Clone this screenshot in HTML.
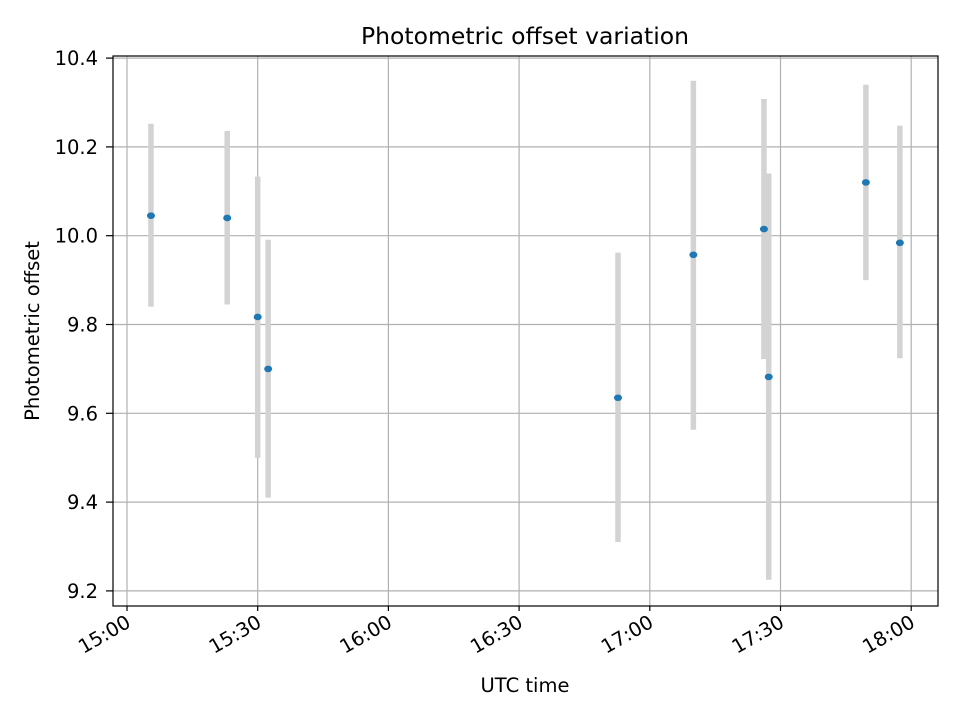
<!DOCTYPE html>
<html><head><meta charset="utf-8"><style>
body{margin:0;background:#fff;}
svg text{font-family:"DejaVu Sans","Liberation Sans",sans-serif;}
</style></head><body>
<svg id="chart" width="960" height="720" xmlns="http://www.w3.org/2000/svg">
<rect width="960" height="720" fill="#fff"/>
<g id="grid"></g><g id="bars"></g><g id="pts"></g><g id="axes"></g>
<rect x="113" y="56" width="825" height="550" fill="none" stroke="#000" stroke-width="1.2"/>
<text x="525" y="44" style="font-size:23.5px" text-anchor="middle">Photometric offset variation</text>
<text x="525" y="692" style="font-size:19.5px" text-anchor="middle">UTC time</text>
<text x="39" y="331" style="font-size:19.5px" text-anchor="middle" transform="rotate(-90 39 331)">Photometric offset</text>
</svg>
<script>
const times=[5.5,23,30,32.4,112.7,130,146.2,147.3,169.6,177.4];
const offsets=[10.045,10.04,9.817,9.70,9.635,9.957,10.015,9.682,10.12,9.984];
const lows=[9.84,9.845,9.50,9.41,9.31,9.563,9.722,9.225,9.90,9.724];
const highs=[10.252,10.236,10.133,9.991,9.962,10.349,10.308,10.14,10.34,10.248];
const xTicks=[0,30,60,90,120,150,180];
const xLabels=["15:00","15:30","16:00","16:30","17:00","17:30","18:00"];
const yTicks=[9.2,9.4,9.6,9.8,10.0,10.2,10.4];
const NS="http://www.w3.org/2000/svg";
const X=m=>127+m*(130.7/30);
const Y=v=>235.7-(v-10.0)*444;
function mk(p,t,a){const e=document.createElementNS(NS,t);for(const k in a)e.setAttribute(k,a[k]);document.getElementById(p).appendChild(e);return e;}
xTicks.forEach((t,i)=>{
 const x=X(t);
 const g=mk('grid','line',{x1:x,x2:x,y1:56,y2:606,stroke:'#b0b0b0','stroke-width':1.2});
 
 
 mk('axes','line',{x1:x,x2:x,y1:606,y2:611,stroke:'#000','stroke-width':1.2});
 const l=mk('axes','text',{x:x+5,y:626,style:'font-size:19.5px','text-anchor':'end',transform:`rotate(-30 ${x+5} 626)`});
 
 
 l.textContent=xLabels[i];
});
yTicks.forEach(t=>{
 const y=Y(t);
 const g=mk('grid','line',{x1:113,x2:938,y1:y,y2:y,stroke:'#b0b0b0','stroke-width':1.2});
 
 
 mk('axes','line',{x1:106,x2:113,y1:y,y2:y,stroke:'#000','stroke-width':1.2});
 const l=mk('axes','text',{x:98,y:y+7,style:'font-size:19.5px','text-anchor':'end'});
 
 
 l.textContent=t.toFixed(1);
});
times.forEach((t,i)=>{
 const b=mk('bars','line',{x1:X(t),x2:X(t),y1:Y(lows[i]),y2:Y(highs[i]),stroke:'#d3d3d3','stroke-width':5.5});
 
 
 const p=mk('pts','ellipse',{cx:X(t),cy:Y(offsets[i]),rx:4,ry:3.3,fill:'#1f77b4'});
 
 
});
</script>
</body></html>
